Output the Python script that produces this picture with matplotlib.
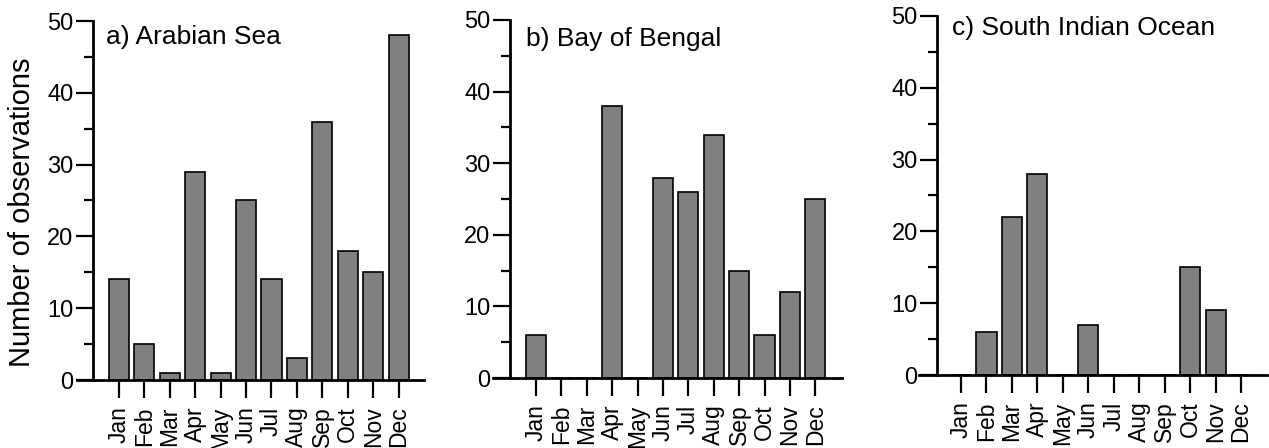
import matplotlib
matplotlib.use("Agg")
import matplotlib.pyplot as plt
from matplotlib.ticker import MultipleLocator

plt.rcParams['font.family'] = ['Liberation Sans', 'DejaVu Sans']

months = ["Jan", "Feb", "Mar", "Apr", "May", "Jun",
          "Jul", "Aug", "Sep", "Oct", "Nov", "Dec"]

arabian_sea = [14, 5, 1, 29, 1, 25, 14, 3, 36, 18, 15, 48]
bay_of_bengal = [6, 0, 0, 38, 0, 28, 26, 34, 15, 6, 12, 25]
south_indian_ocean = [0, 6, 22, 28, 0, 7, 0, 0, 0, 15, 9, 0]

titles = ["a) Arabian Sea", "b) Bay of Bengal", "c) South Indian Ocean"]
series = [arabian_sea, bay_of_bengal, south_indian_ocean]

W, H = 1269, 448
fig = plt.figure(figsize=(W / 100, H / 100), dpi=100)

# panel boxes in pixels: left, right, top, bottom
boxes = [(77, 424, 21, 380), (493, 842, 20, 378), (919, 1267, 16, 375)]
xlims = [(-1.65, 12.0), (-1.69, 12.05), (-1.65, 12.02)]
yspine = [-1.02, -1.02, -0.94]
title_pos = [(0.0836, 0.955), (0.0946, 0.947), (0.0948, 0.967)]

x = list(range(len(months)))
for i, (vals, title) in enumerate(zip(series, titles)):
    l, r, t, b = boxes[i]
    ax = fig.add_axes([l / W, (H - b) / H, (r - l) / W, (b - t) / H])
    ax.bar(x, vals, width=0.79, color="#808080", edgecolor="black",
           linewidth=1.2, zorder=2)
    ax.set_xlim(*xlims[i])
    ax.set_ylim(0, 50)
    ax.spines['top'].set_visible(False)
    ax.spines['right'].set_visible(False)
    ax.spines['left'].set_position(('data', yspine[i]))
    for s in ('left', 'bottom'):
        ax.spines[s].set_linewidth(2.0)
        ax.spines[s].set_zorder(3)
    ax.set_xticks(x)
    ax.set_xticklabels(months, rotation=90, fontsize=16.5)
    ax.yaxis.set_major_locator(MultipleLocator(10))
    ax.yaxis.set_minor_locator(MultipleLocator(5))
    ax.tick_params(axis='x', direction='out', length=13, width=1.6, pad=6)
    ax.tick_params(axis='y', which='major', direction='out', length=12,
                   width=1.6, pad=2, labelsize=17)
    ax.tick_params(axis='y', which='minor', direction='out', length=6.5,
                   width=1.6)
    ax.patch.set_visible(False)
    ax.text(title_pos[i][0], title_pos[i][1], title, transform=ax.transAxes,
            fontsize=19, ha='left', va='center')

fig.text(22 / W, 1 - 212 / H, "Number of observations", rotation=90,
         fontsize=21, ha='center', va='center')

fig.savefig("out.png", dpi=100)
